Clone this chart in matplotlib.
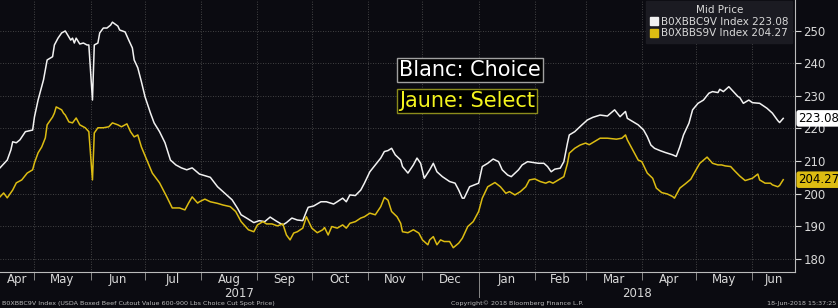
import matplotlib
matplotlib.use("Agg")
import matplotlib.pyplot as plt
import matplotlib.dates as mdates
import matplotlib.ticker as mticker
import matplotlib.transforms as mtransforms
from matplotlib.lines import Line2D
import pandas as pd

# Choice cutout (white line)
choice_dates = [
    "2017-04-12", "2017-04-16", "2017-04-18", "2017-04-19", "2017-04-21", "2017-04-23", "2017-04-26", "2017-04-30",
    "2017-05-01", "2017-05-03", "2017-05-06", "2017-05-08", "2017-05-11", "2017-05-12", "2017-05-14", "2017-05-16",
    "2017-05-18", "2017-05-20", "2017-05-21", "2017-05-22", "2017-05-23", "2017-05-24", "2017-05-26", "2017-05-28",
    "2017-05-30", "2017-05-31", "2017-06-02", "2017-06-03", "2017-06-05", "2017-06-06", "2017-06-08", "2017-06-10",
    "2017-06-12", "2017-06-13", "2017-06-16", "2017-06-17", "2017-06-20", "2017-06-22", "2017-06-24", "2017-06-25",
    "2017-06-27", "2017-06-29", "2017-07-01", "2017-07-04", "2017-07-06", "2017-07-09", "2017-07-12", "2017-07-15",
    "2017-07-18", "2017-07-21", "2017-07-24", "2017-07-27", "2017-07-31", "2017-08-06", "2017-08-10", "2017-08-13",
    "2017-08-16", "2017-08-18", "2017-08-21", "2017-08-23", "2017-08-26", "2017-08-30", "2017-09-02", "2017-09-05",
    "2017-09-08", "2017-09-11", "2017-09-15", "2017-09-17", "2017-09-20", "2017-09-23", "2017-09-26", "2017-09-28",
    "2017-09-29", "2017-10-02", "2017-10-06", "2017-10-09", "2017-10-13", "2017-10-15", "2017-10-18", "2017-10-20",
    "2017-10-22", "2017-10-25", "2017-10-28", "2017-10-30", "2017-11-02", "2017-11-05", "2017-11-08", "2017-11-10",
    "2017-11-12", "2017-11-14", "2017-11-16", "2017-11-19", "2017-11-20", "2017-11-23", "2017-11-26", "2017-11-28",
    "2017-11-30", "2017-12-02", "2017-12-05", "2017-12-07", "2017-12-09", "2017-12-12", "2017-12-16", "2017-12-19",
    "2017-12-21", "2017-12-23", "2017-12-24", "2017-12-27", "2018-01-01", "2018-01-03", "2018-01-06", "2018-01-09",
    "2018-01-12", "2018-01-14", "2018-01-17", "2018-01-19", "2018-01-23", "2018-01-25", "2018-01-28", "2018-02-03",
    "2018-02-06", "2018-02-08", "2018-02-10", "2018-02-12", "2018-02-15", "2018-02-17", "2018-02-19", "2018-02-20",
    "2018-02-23", "2018-02-27", "2018-03-02", "2018-03-05", "2018-03-09", "2018-03-13", "2018-03-17", "2018-03-20",
    "2018-03-23", "2018-03-24", "2018-03-27", "2018-03-30", "2018-04-02", "2018-04-04", "2018-04-06", "2018-04-08",
    "2018-04-11", "2018-04-14", "2018-04-18", "2018-04-20", "2018-04-22", "2018-04-24", "2018-04-27", "2018-04-29",
    "2018-05-02", "2018-05-05", "2018-05-08", "2018-05-10", "2018-05-13", "2018-05-14", "2018-05-16", "2018-05-19",
    "2018-05-21", "2018-05-24", "2018-05-25", "2018-05-27", "2018-05-30", "2018-06-01", "2018-06-05", "2018-06-09",
    "2018-06-12", "2018-06-15", "2018-06-16", "2018-06-18",
]
choice_vals = [
    207.9, 210.3, 213.4, 215.9, 215.6, 216.5, 219.0, 219.5,
    223.5, 228.7, 234.9, 241.0, 242.0, 245.6, 247.7, 249.3,
    249.9, 248.0, 247.1, 247.7, 246.2, 247.7, 245.9, 246.2,
    245.6, 245.6, 228.7, 245.6, 246.2, 249.3, 250.8, 250.8,
    251.7, 252.6, 251.4, 250.2, 249.6, 247.1, 244.7, 241.0,
    238.6, 234.3, 229.7, 224.7, 221.7, 219.0, 215.6, 210.3,
    208.8, 207.9, 207.3, 207.9, 206.0, 205.0, 202.1, 200.6,
    199.1, 198.1, 195.5, 193.5, 192.5, 191.1, 191.7, 191.4,
    192.8, 191.7, 190.4, 191.1, 192.5, 191.9, 191.7, 194.5,
    195.8, 196.2, 197.5, 197.5, 196.8, 197.5, 198.6, 197.5,
    199.6, 199.4, 201.1, 203.2, 206.7, 208.8, 210.9, 212.9,
    213.2, 213.9, 211.9, 210.3, 208.3, 206.3, 208.8, 210.9,
    209.3, 204.7, 207.3, 209.3, 206.7, 205.2, 203.7, 203.2,
    201.1, 198.6, 198.6, 202.1, 203.2, 208.3, 209.3, 210.6,
    209.8, 207.3, 205.7, 205.2, 207.3, 208.8, 209.8, 209.3,
    209.3, 208.3, 206.7, 207.5, 207.8, 209.8, 215.5, 218.0,
    219.0, 221.1, 222.6, 223.4, 224.1, 223.8, 225.7, 223.6,
    225.2, 223.1, 222.1, 221.1, 219.5, 217.5, 214.9, 213.9,
    213.2, 212.6, 211.9, 211.4, 214.4, 218.0, 221.6, 225.7,
    227.7, 228.7, 230.8, 231.3, 231.0, 232.0, 231.3, 232.8,
    231.6, 229.8, 229.5, 227.7, 228.7, 227.9, 227.7, 226.2,
    224.7, 222.4, 221.8, 223.08,
]

# Select cutout (yellow line)
select_dates = [
    "2017-04-12", "2017-04-14", "2017-04-16", "2017-04-19", "2017-04-21", "2017-04-24", "2017-04-27", "2017-04-30",
    "2017-05-01", "2017-05-03", "2017-05-05", "2017-05-07", "2017-05-08", "2017-05-11", "2017-05-12", "2017-05-13",
    "2017-05-16", "2017-05-17", "2017-05-18", "2017-05-20", "2017-05-22", "2017-05-24", "2017-05-26", "2017-05-29",
    "2017-05-31", "2017-06-02", "2017-06-03", "2017-06-05", "2017-06-08", "2017-06-11", "2017-06-13", "2017-06-16",
    "2017-06-18", "2017-06-21", "2017-06-23", "2017-06-25", "2017-06-27", "2017-06-29", "2017-07-02", "2017-07-05",
    "2017-07-09", "2017-07-13", "2017-07-16", "2017-07-20", "2017-07-23", "2017-07-25", "2017-07-27", "2017-07-30",
    "2017-07-31", "2017-08-03", "2017-08-06", "2017-08-10", "2017-08-13", "2017-08-17", "2017-08-20", "2017-08-23",
    "2017-08-27", "2017-08-30", "2017-09-01", "2017-09-04", "2017-09-06", "2017-09-09", "2017-09-12", "2017-09-15",
    "2017-09-17", "2017-09-19", "2017-09-21", "2017-09-23", "2017-09-26", "2017-09-28", "2017-10-01", "2017-10-04",
    "2017-10-07", "2017-10-08", "2017-10-10", "2017-10-12", "2017-10-15", "2017-10-18", "2017-10-20", "2017-10-22",
    "2017-10-25", "2017-10-28", "2017-10-30", "2017-11-02", "2017-11-05", "2017-11-08", "2017-11-10", "2017-11-12",
    "2017-11-14", "2017-11-17", "2017-11-19", "2017-11-20", "2017-11-23", "2017-11-26", "2017-11-29", "2017-12-01",
    "2017-12-04", "2017-12-05", "2017-12-07", "2017-12-09", "2017-12-11", "2017-12-13", "2017-12-16", "2017-12-18",
    "2017-12-21", "2017-12-23", "2017-12-26", "2017-12-29", "2018-01-01", "2018-01-03", "2018-01-06", "2018-01-10",
    "2018-01-13", "2018-01-16", "2018-01-18", "2018-01-21", "2018-01-24", "2018-01-27", "2018-01-29", "2018-02-01",
    "2018-02-04", "2018-02-07", "2018-02-09", "2018-02-11", "2018-02-14", "2018-02-17", "2018-02-19", "2018-02-20",
    "2018-02-23", "2018-02-26", "2018-03-01", "2018-03-03", "2018-03-06", "2018-03-09", "2018-03-13", "2018-03-16",
    "2018-03-18", "2018-03-21", "2018-03-23", "2018-03-24", "2018-03-27", "2018-03-30", "2018-04-01", "2018-04-04",
    "2018-04-07", "2018-04-09", "2018-04-12", "2018-04-15", "2018-04-18", "2018-04-19", "2018-04-22", "2018-04-25",
    "2018-04-28", "2018-04-30", "2018-05-03", "2018-05-07", "2018-05-10", "2018-05-13", "2018-05-15", "2018-05-17",
    "2018-05-20", "2018-05-22", "2018-05-25", "2018-05-28", "2018-06-01", "2018-06-04", "2018-06-05", "2018-06-08",
    "2018-06-11", "2018-06-12", "2018-06-15", "2018-06-16", "2018-06-18",
]
select_vals = [
    199.0, 200.2, 198.7, 201.1, 203.3, 204.2, 206.3, 207.3,
    209.4, 212.5, 214.3, 217.1, 221.1, 223.5, 224.7, 226.6,
    225.7, 224.7, 224.1, 222.0, 221.7, 223.2, 221.1, 220.2,
    219.0, 204.2, 218.6, 220.2, 220.2, 220.5, 221.7, 221.1,
    220.5, 221.4, 219.0, 217.4, 218.0, 214.3, 210.3, 206.3,
    203.3, 199.0, 195.6, 195.6, 195.0, 197.1, 199.0, 197.1,
    197.5, 198.3, 197.5, 197.0, 196.5, 196.0, 194.5, 191.4,
    188.9, 188.3, 190.4, 191.4, 190.7, 190.7, 190.1, 190.7,
    187.3, 185.8, 187.9, 188.3, 189.4, 192.9, 189.4, 188.0,
    188.9, 189.6, 187.3, 189.9, 189.4, 190.4, 189.4, 190.9,
    191.4, 192.5, 192.9, 194.0, 193.5, 196.0, 198.8, 198.0,
    194.5, 192.9, 190.9, 188.3, 188.0, 188.9, 187.9, 185.8,
    184.3, 185.8, 186.8, 184.3, 185.8, 185.3, 185.3, 183.4,
    184.8, 186.3, 189.9, 191.4, 194.5, 198.6, 202.1, 203.4,
    202.1, 200.1, 200.6, 199.6, 200.6, 202.1, 204.2, 204.5,
    203.7, 203.2, 203.7, 203.2, 204.2, 205.2, 209.3, 212.4,
    213.9, 214.9, 215.5, 215.0, 216.0, 217.0, 217.0, 216.8,
    216.7, 217.0, 218.0, 216.5, 213.4, 210.3, 209.8, 206.3,
    204.7, 201.7, 200.3, 199.9, 199.1, 198.6, 201.7, 203.0,
    204.4, 206.4, 209.3, 211.2, 209.3, 208.8, 208.8, 208.5,
    208.3, 207.1, 205.4, 204.0, 204.7, 206.0, 204.2, 203.2,
    203.2, 202.7, 202.1, 202.5, 204.27,
]

y_ticks = [180, 190, 200, 210, 220, 230, 240, 250]
x_start, x_end = "2017-04-12", "2018-06-24 12:00"
y_min, y_max = 176.1, 259.4

BG = "#0b0b11"
WHITE = "#f2f2f2"
GOLD = "#dcbc12"
GRID = "#555555"
TXT = "#d8d8d8"

choice_x = pd.to_datetime(choice_dates)
select_x = pd.to_datetime(select_dates)
xmin, xmax = pd.Timestamp(x_start), pd.Timestamp(x_end)

fig = plt.figure(figsize=(8.38, 3.08), dpi=100, facecolor=BG)
ax = fig.add_axes([0, 0.1185, 0.9487, 0.8815], facecolor=BG)

ax.plot(choice_x, choice_vals, color=WHITE, lw=1.1, zorder=3)
ax.plot(select_x, select_vals, color=GOLD, lw=1.1, zorder=3)

ax.set_xlim(xmin, xmax)
ax.set_ylim(y_min, y_max)

# y axis on the right
ax.yaxis.tick_right()
ax.set_yticks(y_ticks)
ax.tick_params(axis="y", colors=TXT, labelsize=8.5, length=4, width=0.8, pad=2)

# month starts = grid + ticks; labels centred on visible part of each month
months = pd.date_range("2017-04-01", "2018-06-01", freq="MS")
ax.xaxis.set_major_locator(mdates.MonthLocator())
ax.xaxis.set_major_formatter(mticker.NullFormatter())
mids = []
for m in months:
    lo = max(m, xmin)
    hi = min(m + pd.offsets.MonthBegin(1), xmax)
    mids.append(lo + (hi - lo) / 2)
ax.xaxis.set_minor_locator(mticker.FixedLocator(mdates.date2num(mids)))
ax.xaxis.set_minor_formatter(mdates.DateFormatter("%b"))
ax.tick_params(axis="x", which="major", colors="#888888", length=6, width=0.7)
ax.tick_params(axis="x", which="minor", length=0, labelcolor=TXT, labelsize=8.5, pad=1)

ax.grid(True, which="major", color=GRID, lw=0.6, linestyle=(0, (1, 2)))

for s in ["top", "left"]:
    ax.spines[s].set_visible(False)
for s in ["right", "bottom"]:
    ax.spines[s].set_color("#bbbbbb")
    ax.spines[s].set_linewidth(0.8)

# year labels and year separator
trans = mtransforms.blended_transform_factory(ax.transData, ax.transAxes)
for yr in [2017, 2018]:
    lo = max(pd.Timestamp(f"{yr}-01-01"), xmin)
    hi = min(pd.Timestamp(f"{yr + 1}-01-01"), xmax)
    ax.text(lo + (hi - lo) / 2, -0.082, str(yr), transform=trans, ha="center", va="center",
            color=TXT, fontsize=8.5)
jan = pd.Timestamp("2018-01-01")
ax.plot([jan, jan], [0, -0.095], transform=trans, color="#888888", lw=0.7, clip_on=False)

# annotation boxes
ax.text(0.502, 0.742, "Blanc: Choice", transform=ax.transAxes, color="white", fontsize=15,
        va="center", ha="left",
        bbox=dict(boxstyle="square,pad=0.1", facecolor="#000000", edgecolor="#a0a0a0", lw=1.0))
ax.text(0.502, 0.628, "Jaune: Select", transform=ax.transAxes, color="#f4f41e", fontsize=15,
        va="center", ha="left",
        bbox=dict(boxstyle="square,pad=0.1", facecolor="#000000", edgecolor="#8c8c1c", lw=1.0))

# legend
handles = [
    Line2D([], [], marker="s", ls="none", color=WHITE, markersize=6),
    Line2D([], [], marker="s", ls="none", color=GOLD, markersize=6),
]
labels = [f"B0XBBC9V Index {choice_vals[-1]:.2f}", f"B0XBBS9V Index {select_vals[-1]:.2f}"]
leg = ax.legend(handles, labels, title="Mid Price", loc="upper right", bbox_to_anchor=(0.998, 1.0),
                fontsize=7.5, title_fontsize=7.5, frameon=True, facecolor="#1b1b22", edgecolor="#1b1b22",
                framealpha=1.0, fancybox=False, handlelength=0.7, handletextpad=0.3, borderpad=0.4,
                labelspacing=0.15, borderaxespad=0.1)
for t in leg.get_texts():
    t.set_color(TXT)
leg.get_title().set_color(TXT)

# last-value tags on the axis
tag_trans = mtransforms.blended_transform_factory(ax.transAxes, ax.transData)
ax.text(1.004, choice_vals[-1], f"{choice_vals[-1]:.2f}", transform=tag_trans, ha="left", va="center",
        fontsize=8.5, color="black", clip_on=False,
        bbox=dict(boxstyle="round,pad=0.15,rounding_size=0.2", facecolor="white", edgecolor="none"))
ax.text(1.004, select_vals[-1], f"{select_vals[-1]:.2f}", transform=tag_trans, ha="left", va="center",
        fontsize=8.5, color="black", clip_on=False,
        bbox=dict(boxstyle="round,pad=0.15,rounding_size=0.2", facecolor=GOLD, edgecolor="none"))

# footer
fig.text(0.002, 0.008, "B0XBBC9V Index (USDA Boxed Beef Cutout Value 600-900 Lbs Choice Cut Spot Price)",
         color="#bbbbbb", fontsize=4.6, ha="left", va="bottom")
fig.text(0.617, 0.008, "Copyright\u00a9 2018 Bloomberg Finance L.P.", color="#bbbbbb", fontsize=4.6,
         ha="center", va="bottom")
fig.text(0.998, 0.008, "18-Jun-2018 15:37:25", color="#bbbbbb", fontsize=4.6, ha="right", va="bottom")

fig.savefig("out.png", dpi=100, facecolor=BG)
